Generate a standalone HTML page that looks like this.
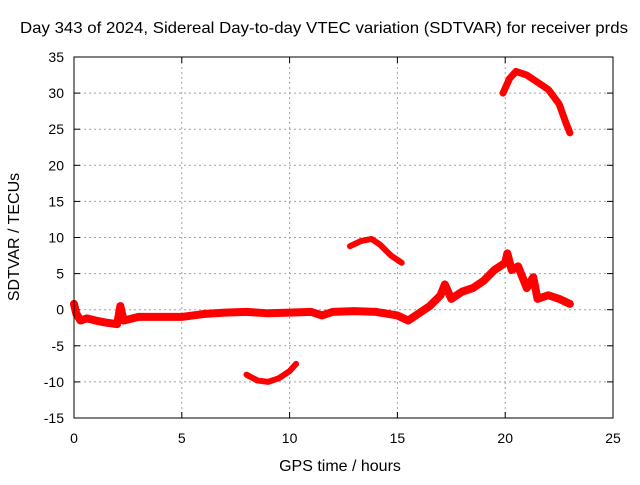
<!DOCTYPE html>
<html><head><meta charset="utf-8"><style>
body{margin:0;background:#fff}
svg text{font-family:"Liberation Sans",sans-serif;font-size:14px;fill:#000}
svg text.big{font-size:16px}
</style></head><body>
<svg id="c" width="640" height="480">
<rect width="640" height="480" fill="#fff"/>
<g id="grid"></g><g id="ticks"></g><g id="series"></g>
<rect x="74" y="57" width="539" height="361" fill="none" stroke="#000" stroke-width="1"/>
<text class="big" x="324" y="33" text-anchor="middle" textLength="608" lengthAdjust="spacingAndGlyphs">Day 343 of 2024, Sidereal Day-to-day VTEC variation (SDTVAR) for receiver prds</text>
<text class="big" x="340" y="471" text-anchor="middle">GPS time / hours</text>
<text class="big" transform="translate(19,237) rotate(-90)" text-anchor="middle">SDTVAR / TECUs</text>
</svg>
<script>
const xTicks=[0,5,10,15,20,25];
const yTicks=[-15,-10,-5,0,5,10,15,20,25,30,35];
const mainT=[0,0.1,0.3,0.6,1,1.5,2,2.15,2.3,3,4,5,6,7,8,9,10,11,11.5,12,13,14,15,15.5,16,16.5,17,17.2,17.5,18,18.5,19,19.5,20,20.1,20.3,20.6,21,21.3,21.5,22,22.5,23];
const mainV=[0.8,-0.5,-1.5,-1.2,-1.5,-1.8,-2,0.5,-1.5,-1,-1,-1,-0.6,-0.4,-0.3,-0.5,-0.4,-0.3,-0.8,-0.3,-0.2,-0.3,-0.8,-1.5,-0.5,0.5,2,3.5,1.5,2.5,3,4,5.5,6.5,7.8,5.5,6,3,4.5,1.5,2,1.5,0.8];
const lowT=[8,8.5,9,9.5,10,10.3];
const lowV=[-9,-9.8,-10,-9.5,-8.5,-7.5];
const midT=[12.8,13.3,13.8,14.2,14.7,15.2];
const midV=[8.8,9.5,9.8,9,7.5,6.5];
const highT=[19.9,20.2,20.5,21,21.5,22,22.5,22.8,23];
const highV=[30,32,33,32.5,31.5,30.5,28.5,26,24.5];
const NS='http://www.w3.org/2000/svg';
const X=t=>74+t*539/25, Y=v=>418-(v+15)*361/50;
function mk(tag,attrs,parent){const e=document.createElementNS(NS,tag);for(const k in attrs)e.setAttribute(k,attrs[k]);parent.appendChild(e);return e;}
const grid=document.getElementById('grid'),ticks=document.getElementById('ticks'),ser=document.getElementById('series');
xTicks.forEach(t=>{
 if(t>0&&t<25){const l=mk('line',{x1:X(t),x2:X(t),y1:57,y2:418,stroke:'#a0a0a0','stroke-dasharray':'2,3'},grid);
 
 }
 mk('line',{x1:X(t),x2:X(t),y1:418,y2:412,stroke:'#000'},ticks);
 mk('line',{x1:X(t),x2:X(t),y1:57,y2:63,stroke:'#000'},ticks);
 const tx=mk('text',{x:X(t),y:443,'text-anchor':'middle'},ticks);tx.textContent=t;
 
 
});
yTicks.forEach(v=>{
 if(v>-15&&v<35){const l=mk('line',{x1:74,x2:613,y1:Y(v),y2:Y(v),stroke:'#a0a0a0','stroke-dasharray':'2,3'},grid);
 
 }
 mk('line',{x1:74,x2:80,y1:Y(v),y2:Y(v),stroke:'#000'},ticks);
 mk('line',{x1:613,x2:607,y1:Y(v),y2:Y(v),stroke:'#000'},ticks);
 const tx=mk('text',{x:64,y:Y(v)+5,'text-anchor':'end'},ticks);tx.textContent=v;
 
 
});
function series(T,V,w,name){
 const p=mk('polyline',{points:T.map((t,i)=>X(t)+','+Y(V[i])).join(' '),fill:'none',stroke:'#f00','stroke-width':w,'stroke-linejoin':'round','stroke-linecap':'round'},ser);
 
 
}
series(mainT,mainV,8,'main-series');
series(lowT,lowV,6,'low-arc-series');
series(midT,midV,6,'mid-arc-series');
series(highT,highV,7,'high-arc-series');
</script>
</body></html>
